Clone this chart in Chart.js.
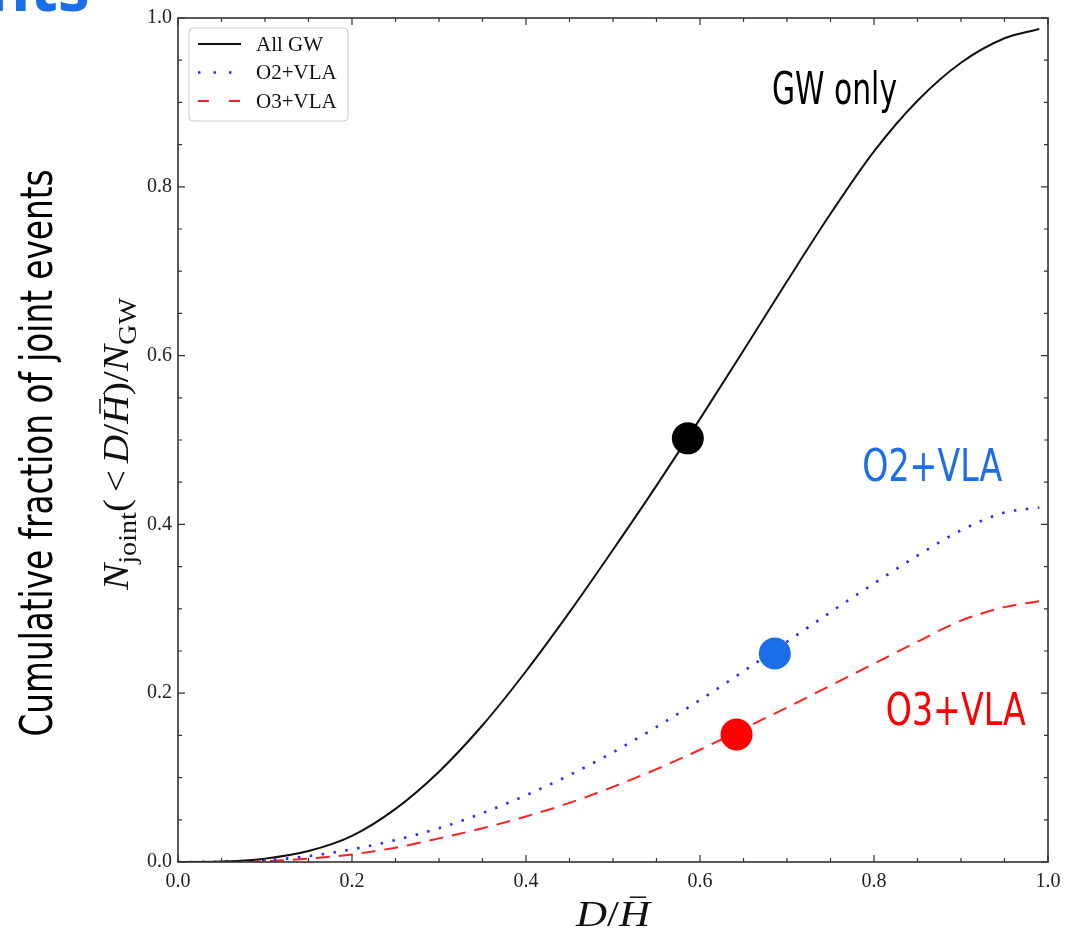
<!DOCTYPE html>
<html>
<head>
<meta charset="utf-8">
<script src="https://cdn.jsdelivr.net/npm/chart.js@4.4.1/dist/chart.umd.min.js"></script>
<style>
  html, body { margin: 0; padding: 0; background: #fff; }
  canvas { display: block; }
</style>
</head>
<body>
<canvas id="cumChart" width="1076" height="938"></canvas>
<script>
// D/H sample points shared by the three curves
const ratioX = [0, 0.05, 0.1, 0.15, 0.2, 0.25, 0.3, 0.35, 0.4, 0.45, 0.5, 0.55, 0.6, 0.65, 0.7, 0.75, 0.8, 0.85, 0.9, 0.95, 0.99];
const allGW = [0, 0.0005, 0.004, 0.013, 0.031, 0.063, 0.107, 0.162, 0.226, 0.296, 0.370, 0.446, 0.525, 0.606, 0.688, 0.768, 0.842, 0.902, 0.947, 0.976, 0.987];
const o2VLA = [0, 0.0003, 0.002, 0.007, 0.015, 0.026, 0.040, 0.058, 0.079, 0.103, 0.130, 0.160, 0.192, 0.226, 0.261, 0.296, 0.330, 0.363, 0.393, 0.414, 0.420];
const o3VLA = [0, 0.0002, 0.001, 0.004, 0.009, 0.017, 0.028, 0.040, 0.054, 0.070, 0.089, 0.110, 0.133, 0.158, 0.183, 0.209, 0.235, 0.261, 0.286, 0.302, 0.309];
const seriesNames = ['All GW', 'O2+VLA', 'O3+VLA'];

// big dots marking the median events
const markX = [0.586, 0.686, 0.642];
const markY = [0.502, 0.247, 0.151];
const markColors = ['#000000', '#1a6fe8', '#ff0000'];

// tick labels
const xTickVals = [0, 0.2, 0.4, 0.6, 0.8, 1.0];
const yTickVals = [0, 0.2, 0.4, 0.6, 0.8, 1.0];

const lineStyles = [
  { color: '#111111', width: 2, dash: [] },
  { color: '#2a2aff', width: 2.6, dash: [2.5, 9.5] },
  { color: '#ff2020', width: 2, dash: [14, 9] }
];

function toPoints(xs, ys) {
  return xs.map((x, i) => ({ x: x, y: ys[i] }));
}

const SERIF = '"Liberation Serif", "DejaVu Serif", serif';
const NARROW = '"Liberation Sans Narrow", "DejaVu Sans Condensed", "Roboto", sans-serif';

function fitText(ctx, text, x, y, width, font, color, align) {
  ctx.save();
  ctx.font = font;
  ctx.fillStyle = color;
  ctx.textBaseline = 'alphabetic';
  const w = ctx.measureText(text).width;
  const sx = width / w;
  ctx.translate(x, y);
  ctx.scale(sx, 1);
  ctx.textAlign = 'left';
  let start = 0;
  if (align === 'center') start = -w / 2;
  if (align === 'right') start = -w;
  ctx.fillText(text, start, 0);
  ctx.restore();
}

// small math-like text: segments with italic / subscript / overbar, stretched to a width
function drawRich(ctx, segs, size, color, target) {
  const fontFor = s => (s.it ? 'italic ' : '') + Math.round(s.sub ? size * 0.7 : size) + 'px ' + SERIF;
  let total = 0;
  const widths = segs.map(s => {
    ctx.font = fontFor(s);
    const w = ctx.measureText(s.t).width + (s.gap || 0);
    total += w;
    return w;
  });
  ctx.scale(target / total, 1);
  let x = -total / 2;
  ctx.fillStyle = color;
  ctx.strokeStyle = color;
  ctx.textAlign = 'left';
  ctx.textBaseline = 'alphabetic';
  segs.forEach((s, i) => {
    ctx.font = fontFor(s);
    const yOff = s.sub ? size * 0.22 : 0;
    ctx.fillText(s.t, x + (s.gap || 0) / 2, yOff);
    if (s.bar) {
      ctx.lineWidth = 1.5;
      ctx.beginPath();
      ctx.moveTo(x + widths[i] * 0.35, -size * 0.8);
      ctx.lineTo(x + widths[i] * 0.88, -size * 0.8);
      ctx.stroke();
    }
    x += widths[i];
  });
}

const decor = {
  id: 'decor',
  afterDraw(chart) {
    const ctx = chart.ctx;
    const a = chart.chartArea;
    const xs = chart.scales.x, ys = chart.scales.y;
    ctx.save();

    // frame and inward ticks on all four sides
    ctx.strokeStyle = '#333';
    ctx.lineWidth = 1.6;
    ctx.strokeRect(a.left, a.top, a.right - a.left, a.bottom - a.top);
    ctx.lineWidth = 1.2;
    ctx.beginPath();
    for (let i = 0; i <= 20; i++) {
      const v = i * 0.05;
      const len = i % 4 === 0 ? 7 : 4;
      const px = xs.getPixelForValue(v);
      ctx.moveTo(px, a.bottom); ctx.lineTo(px, a.bottom - len);
      ctx.moveTo(px, a.top); ctx.lineTo(px, a.top + len);
      const py = ys.getPixelForValue(v);
      ctx.moveTo(a.left, py); ctx.lineTo(a.left + len, py);
      ctx.moveTo(a.right, py); ctx.lineTo(a.right - len, py);
    }
    ctx.stroke();

    // legend
    const lx = a.left + 11, ly = a.top + 10, lw = 159, lh = 93;
    ctx.fillStyle = '#fff';
    ctx.strokeStyle = '#cccccc';
    ctx.lineWidth = 1;
    ctx.beginPath();
    ctx.roundRect(lx, ly, lw, lh, 4);
    ctx.fill();
    ctx.stroke();
    seriesNames.forEach((name, i) => {
      const st = lineStyles[i];
      const yy = ly + 16 + i * 28.5;
      ctx.strokeStyle = st.color;
      ctx.lineWidth = st.width;
      ctx.setLineDash(i === 1 ? [2.5, 13] : (i === 2 ? [11, 20] : []));
      ctx.beginPath();
      ctx.moveTo(lx + 9, yy);
      ctx.lineTo(lx + 52, yy);
      ctx.stroke();
      ctx.setLineDash([]);
      ctx.fillStyle = '#111';
      ctx.font = '21px ' + SERIF;
      ctx.textAlign = 'left';
      ctx.textBaseline = 'middle';
      ctx.fillText(name, lx + 67, yy + 1);
    });

    // axis titles
    ctx.save();
    ctx.translate((a.left + a.right) / 2, 926);
    drawRich(ctx, [{ t: 'D', it: true }, { t: '/' }, { t: 'H', it: true, bar: true }], 36, '#111', 74);
    ctx.restore();

    ctx.save();
    ctx.translate(128, 444);
    ctx.rotate(-Math.PI / 2);
    drawRich(ctx, [
      { t: 'N', it: true }, { t: 'joint', sub: true }, { t: '(' }, { t: '<', gap: 12 },
      { t: 'D', it: true }, { t: '/' }, { t: 'H', it: true, bar: true }, { t: ')/' },
      { t: 'N', it: true }, { t: 'GW', sub: true }
    ], 35, '#111', 292);
    ctx.restore();

    // annotations on the plot
    fitText(ctx, 'GW only', xs.getPixelForValue(0.7546), ys.getPixelForValue(0.898), 125, '44px ' + NARROW, '#000', 'center');
    fitText(ctx, 'O2+VLA', xs.getPixelForValue(0.867), ys.getPixelForValue(0.4515), 140, '44px ' + NARROW, '#1a6fe8', 'center');
    fitText(ctx, 'O3+VLA', xs.getPixelForValue(0.894), ys.getPixelForValue(0.162), 140, '44px ' + NARROW, '#ff0000', 'center');

    // slide side label and the cut-off heading
    ctx.save();
    ctx.translate(52, 453);
    ctx.rotate(-Math.PI / 2);
    fitText(ctx, 'Cumulative fraction of joint events', 0, 0, 567, '44px ' + NARROW, '#000', 'center');
    ctx.restore();
    ctx.font = 'bold 64px "Noto Sans", sans-serif';
    ctx.fillStyle = '#1a6fe8';
    ctx.textAlign = 'right';
    ctx.textBaseline = 'alphabetic';
    ctx.fillText('nts', 90, 11);

    ctx.restore();
  }
};

const ctx = document.getElementById('cumChart').getContext('2d');
new Chart(ctx, {
  type: 'line',
  data: {
    datasets: [
      {
        label: 'marks',
        data: toPoints(markX, markY),
        showLine: false,
        pointRadius: 16,
        pointBackgroundColor: markColors,
        pointBorderWidth: 0,
        order: 0
      },
      ...[allGW, o2VLA, o3VLA].map((ys, i) => ({
        label: seriesNames[i],
        data: toPoints(ratioX, ys),
        borderColor: lineStyles[i].color,
        borderWidth: lineStyles[i].width,
        borderDash: lineStyles[i].dash,
        pointRadius: 0,
        fill: false,
        cubicInterpolationMode: 'monotone',
        order: 1
      }))
    ]
  },
  options: {
    responsive: false,
    animation: false,
    devicePixelRatio: 1,
    layout: { padding: { left: 0, top: 16, right: 28, bottom: 0 } },
    plugins: { legend: { display: false }, tooltip: { enabled: false } },
    scales: {
      x: {
        type: 'linear',
        min: 0, max: 1,
        afterFit(scale) { scale.height = 76; },
        afterBuildTicks(scale) { scale.ticks = xTickVals.map(v => ({ value: v })); },
        grid: { display: false, drawTicks: false },
        border: { display: false },
        ticks: {
          padding: 8,
          color: '#222',
          font: { family: SERIF, size: 20 },
          maxRotation: 0,
          callback: v => Number(v).toFixed(1)
        }
      },
      y: {
        type: 'linear',
        min: 0, max: 1,
        afterFit(scale) { scale.width = 178; },
        afterBuildTicks(scale) { scale.ticks = yTickVals.map(v => ({ value: v })); },
        grid: { display: false, drawTicks: false },
        border: { display: false },
        ticks: {
          padding: 6,
          color: '#222',
          font: { family: SERIF, size: 20 },
          callback: v => Number(v).toFixed(1)
        }
      }
    }
  },
  plugins: [decor]
});
</script>
</body>
</html>
